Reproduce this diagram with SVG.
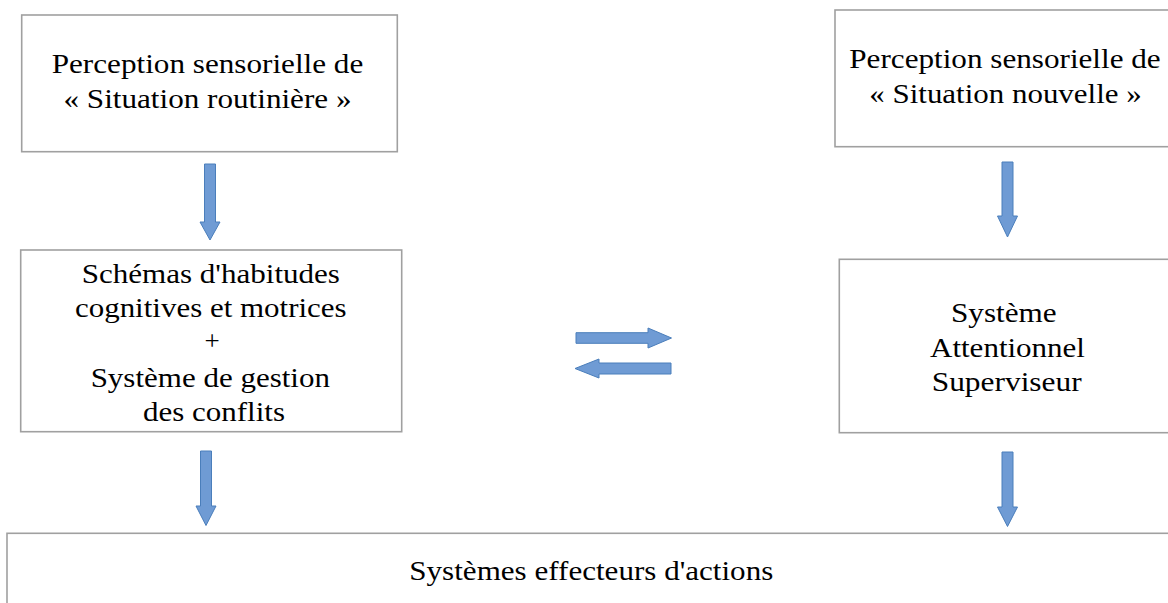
<svg xmlns="http://www.w3.org/2000/svg" width="1168" height="603" viewBox="0 0 1168 603">
<style>
.box{fill:#fff;stroke:#a0a0a0;stroke-width:1.6}
.t{font-family:'Liberation Serif','Times New Roman',serif;font-size:27px;fill:#000;text-anchor:middle}
.arr{fill:#6f9bd4;stroke:#4a7ebb;stroke-width:1;stroke-linejoin:round}
</style>
<rect width="1168" height="603" fill="#fff"/>
<g id="connectors">
<path class="arr" d="M204.5,164 H215.5 V222 H220 L210,240 L200,222 H204.5 Z"/>
<path class="arr" d="M1002,162 H1013 V216 H1017.5 L1007.5,237 L997.5,216 H1002 Z"/>
<path class="arr" d="M200.5,451 H211.5 V506 H216 L206,525.5 L196,506 H200.5 Z"/>
<path class="arr" d="M1002,452 H1013 V507 H1017.5 L1007.5,526.5 L997.5,507 H1002 Z"/>
<path class="arr" d="M576,332.7 H648 V328 L671.5,338 L648,348 V343.3 H576 Z"/>
<path class="arr" d="M671,363 H599 V359 L575,368.5 L599,378 V374 H671 Z"/>
</g>
<g id="n1">
<rect class="box" x="21.7" y="15" width="375.6" height="136.7"/>
<text class="t" x="207.5" y="72.5" textLength="311.6" lengthAdjust="spacingAndGlyphs">Perception sensorielle de</text>
<text class="t" x="207.5" y="108" textLength="288" lengthAdjust="spacingAndGlyphs">« Situation routinière »</text>
</g>
<g id="n2">
<rect class="box" x="835" y="10" width="340" height="136.7"/>
<text class="t" x="1005" y="67.7" textLength="311.4" lengthAdjust="spacingAndGlyphs">Perception sensorielle de</text>
<text class="t" x="1005.5" y="103.3" textLength="272.4" lengthAdjust="spacingAndGlyphs">« Situation nouvelle »</text>
</g>
<g id="n3">
<rect class="box" x="20.7" y="250" width="381" height="181.7"/>
<text class="t" x="210.8" y="282.7" textLength="258.3" lengthAdjust="spacingAndGlyphs">Schémas d'habitudes</text>
<text class="t" x="210.8" y="316.7" textLength="271.7" lengthAdjust="spacingAndGlyphs">cognitives et motrices</text>
<text class="t" x="212" y="350">+</text>
<text class="t" x="210.3" y="386.5" textLength="239.3" lengthAdjust="spacingAndGlyphs">Système de gestion</text>
<text class="t" x="214" y="420.5" textLength="142" lengthAdjust="spacingAndGlyphs">des conflits</text>
</g>
<g id="n4">
<rect class="box" x="839.3" y="259.3" width="340" height="173.4"/>
<text class="t" x="1003.8" y="321.7" textLength="105.7" lengthAdjust="spacingAndGlyphs">Système</text>
<text class="t" x="1007.5" y="356.7" textLength="155" lengthAdjust="spacingAndGlyphs">Attentionnel</text>
<text class="t" x="1006.7" y="390.5" textLength="150" lengthAdjust="spacingAndGlyphs">Superviseur</text>
</g>
<g id="n5">
<rect class="box" x="7" y="533.3" width="1170" height="80"/>
<text class="t" x="591.3" y="580" textLength="364" lengthAdjust="spacingAndGlyphs">Systèmes effecteurs d'actions</text>
</g>
</svg>
